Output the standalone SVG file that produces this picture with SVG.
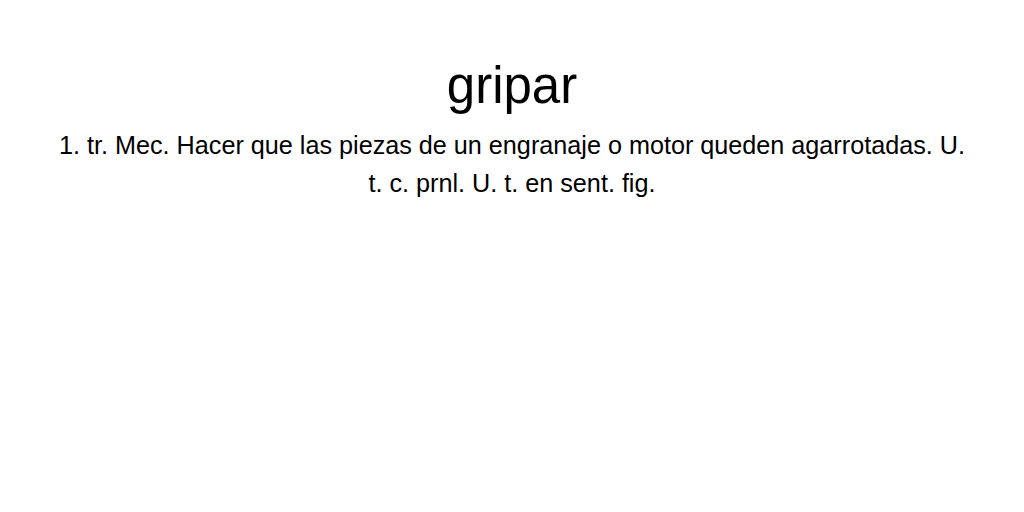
<svg xmlns="http://www.w3.org/2000/svg" width="1024" height="512" viewBox="0 0 1024 512">
<style>
.t{font-family:"Liberation Sans",Arial,sans-serif;fill:#000;text-anchor:middle}
.h{font-size:51px}
.b{font-size:25.2px}
</style>
<rect width="1024" height="512" fill="#fff"/>
<text class="t h" x="512" y="103">gripar</text>
<text class="t b" x="512" y="154">1. tr. Mec. Hacer que las piezas de un engranaje o motor queden agarrotadas. U.</text>
<text class="t b" x="512" y="192">t. c. prnl. U. t. en sent. fig.</text>
</svg>
